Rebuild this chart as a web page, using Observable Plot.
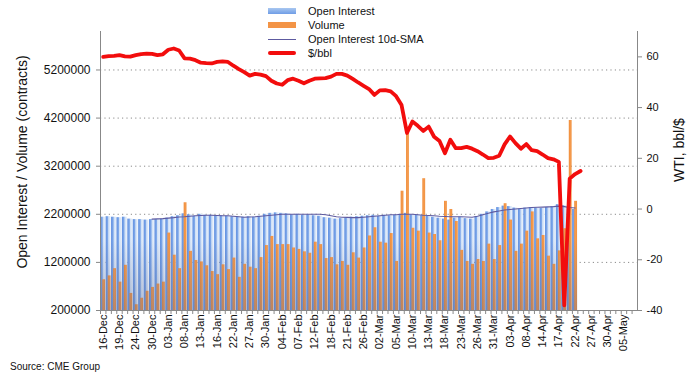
<!DOCTYPE html>
<html><head><meta charset="utf-8">
<script src="https://cdn.jsdelivr.net/npm/d3@7"></script>
<script src="https://cdn.jsdelivr.net/npm/@observablehq/plot@0.6"></script>
<style>
body{margin:0;background:#fff;font-family:"Liberation Sans",Arial,sans-serif;}
#wrap{position:relative;width:694px;height:383px;overflow:hidden;background:#fff;}
#wrap svg{position:absolute;left:0;top:0;}
.legend{position:absolute;left:268px;top:4px;font-size:11px;color:#111;line-height:14px;}
.li{height:14px;display:flex;align-items:center;}
.sw{width:28px;margin-right:12px;flex:none;}
.ytitle{position:absolute;white-space:nowrap;font-size:14px;color:#111;transform:translate(-50%,-50%) rotate(-90deg);}
.src{position:absolute;left:10px;top:361px;font-size:10px;color:#111;}
</style></head>
<body>
<div id="wrap">
  <div class="ytitle" style="left:22px;top:162px">Open Interest / Volume (contracts)</div>
  <div class="ytitle" style="left:679px;top:150px">WTI, bbl/$</div>
  <div class="src">Source: CME Group</div>
</div>
<script>
// ---- data ----
const days = ["16-Dec","17-Dec","18-Dec","19-Dec","20-Dec","23-Dec","24-Dec","26-Dec","27-Dec","30-Dec","31-Dec",
"02-Jan","03-Jan","06-Jan","07-Jan","08-Jan","09-Jan","10-Jan","13-Jan","14-Jan","15-Jan","16-Jan","17-Jan","21-Jan","22-Jan","23-Jan","24-Jan","27-Jan","28-Jan","29-Jan","30-Jan","31-Jan",
"03-Feb","04-Feb","05-Feb","06-Feb","07-Feb","10-Feb","11-Feb","12-Feb","13-Feb","14-Feb","18-Feb","19-Feb","20-Feb","21-Feb","24-Feb","25-Feb","26-Feb","27-Feb","28-Feb",
"02-Mar","03-Mar","04-Mar","05-Mar","06-Mar","09-Mar","10-Mar","11-Mar","12-Mar","13-Mar","16-Mar","17-Mar","18-Mar","19-Mar","20-Mar","23-Mar","24-Mar","25-Mar","26-Mar","27-Mar","30-Mar","31-Mar",
"01-Apr","02-Apr","03-Apr","06-Apr","07-Apr","08-Apr","09-Apr","13-Apr","14-Apr","15-Apr","16-Apr","17-Apr","20-Apr","21-Apr","22-Apr","23-Apr","24-Apr","27-Apr","28-Apr","29-Apr","30-Apr",
"01-May","04-May","05-May","06-May","07-May"];

const tickLabels = ["16-Dec","19-Dec","24-Dec","30-Dec","03-Jan","08-Jan","13-Jan","16-Jan","22-Jan","27-Jan","30-Jan",
"04-Feb","07-Feb","12-Feb","18-Feb","21-Feb","26-Feb","02-Mar","05-Mar","10-Mar","13-Mar","18-Mar","23-Mar","26-Mar",
"31-Mar","03-Apr","08-Apr","14-Apr","17-Apr","22-Apr","27-Apr","30-Apr","05-May"];

const volume = [840000,920000,1070000,790000,1140000,555000,320000,455000,600000,680000,
750000,790000,1810000,1350000,1070000,2440000,1430000,1240000,1210000,1130000,
1010000,945000,1150000,1050000,1290000,890000,1160000,1100000,1070000,1300000,
1550000,1740000,1570000,1570000,1570000,1500000,1470000,1420000,1390000,1620000,
1570000,1280000,1300000,1150000,1220000,1140000,1400000,1290000,1500000,1750000,
1920000,1620000,1600000,1800000,1220000,2680000,3890000,1910000,1850000,2940000,
1810000,1780000,1650000,2470000,2300000,2050000,1450000,1220000,1160000,1260000,
1220000,1580000,1260000,1550000,2420000,2080000,1430000,1580000,1850000,2250000,
1690000,1760000,1330000,1160000,1440000,1900000,4150000,2470000];

const openInterest = [2140000,2150000,2140000,2130000,2140000,2100000,2090000,2090000,2080000,2090000,
2090000,2100000,2120000,2150000,2170000,2210000,2190000,2160000,2200000,2180000,
2180000,2170000,2170000,2160000,2150000,2150000,2140000,2150000,2140000,2160000,
2200000,2220000,2230000,2220000,2210000,2190000,2200000,2180000,2190000,2170000,
2160000,2130000,2120000,2100000,2110000,2120000,2140000,2150000,2160000,2170000,
2180000,2160000,2180000,2170000,2180000,2200000,2220000,2190000,2180000,2170000,
2160000,2140000,2120000,2100000,2080000,2120000,2140000,2110000,2100000,2150000,
2200000,2250000,2300000,2340000,2370000,2360000,2330000,2310000,2330000,2340000,
2330000,2320000,2340000,2360000,2400000,2380000,2350000,2300000];

// 10-day SMA of open interest, starts at 30-Dec (index 9)
const smaStart = 9;
const oiSma = [2100000,2105000,2110000,2120000,2130000,2145000,2150000,2160000,2170000,2175000,
2180000,2180000,2175000,2170000,2170000,2160000,2150000,2140000,2145000,2150000,
2160000,2170000,2180000,2190000,2200000,2200000,2200000,2200000,2200000,2200000,
2200000,2200000,2190000,2170000,2150000,2140000,2135000,2130000,2130000,2140000,
2150000,2160000,2170000,2180000,2190000,2190000,2200000,2200000,2200000,2190000,
2180000,2175000,2170000,2160000,2155000,2150000,2150000,2150000,2145000,2140000,
2160000,2190000,2220000,2250000,2270000,2290000,2300000,2310000,2320000,2330000,
2340000,2345000,2350000,2355000,2360000,2370000,2360000,2340000,2330000];

const wti = [60.0,60.3,60.4,60.7,60.2,60.1,60.7,61.1,61.3,61.2,
60.7,61.0,62.8,63.3,62.5,59.4,59.3,58.7,57.7,57.5,
57.4,58.0,58.2,58.0,56.5,55.2,54.0,52.6,53.3,53.0,
52.4,50.6,49.5,49.0,50.8,51.4,50.6,49.6,50.6,51.4,
51.5,51.6,52.2,53.3,53.3,52.6,51.3,49.9,48.6,47.3,
45.0,46.8,46.9,46.4,44.5,41.0,30.0,34.5,32.8,30.8,
32.5,28.5,26.8,22.0,27.3,24.0,24.0,24.5,23.8,22.8,
21.5,20.1,20.2,21.0,25.5,28.6,26.0,23.8,25.6,23.2,
22.8,21.5,20.1,19.6,18.6,-38.0,12.0,13.8,15.0];

const leftTicks = [200000,1200000,2200000,3200000,4200000,5200000];
const rightTicks = [-40,-20,0,20,40,60];
const leftDomain = [200000,6000000];
const rightDomain = [-40,70];

// ---- build ----
const toC = d3.scaleLinear(rightDomain, leftDomain);
const barRows = volume.map((v,i)=>({day:days[i], vol:v, oi:openInterest[i]}));
const smaRows = oiSma.map((v,i)=>({day:days[i+smaStart], v}));
const wtiRows = wti.map((p,i)=>({day:days[i], p}));
const base = leftDomain[0];

const chart = Plot.plot({
  width: 694, height: 383,
  marginLeft: 100, marginRight: 57, marginTop: 31, marginBottom: 73,
  style: {fontFamily: '"Liberation Sans", Arial, sans-serif', color: "#111", background: "transparent"},
  x: {type: "band", domain: days, padding: 0, axis: null},
  y: {domain: leftDomain, axis: null},
  marks: [
    Plot.gridY(leftTicks.slice(1), {stroke: "#8a8a8a", strokeOpacity: 1, strokeDasharray: "1.2,3.2"}),
    Plot.barY(barRows, {x: "day", y1: () => base, y2: "oi", fill: "url(#oiGrad)", insetLeft: 0.2, insetRight: 0.2}),
    Plot.barY(barRows, {x: "day", y1: () => base, y2: "vol", fill: "url(#volGrad)", insetLeft: 2.3, insetRight: 0.3}),
    Plot.barY(barRows, {x: "day", y1: () => base, y2: "oi", fill: "url(#shade)", insetLeft: 0.2, insetRight: 0.2}),
    Plot.lineY(smaRows, {x: "day", y: "v", stroke: "#5d5aa0", strokeWidth: 1.1}),
    Plot.lineY(wtiRows, {x: "day", y: d => toC(d.p), stroke: "#f20d0d", strokeWidth: 3.8, strokeLinejoin: "round"}),
    Plot.axisY(leftTicks, {anchor: "left", tickSize: 4, tickPadding: 6, fontSize: 12, tickFormat: d => String(d), label: null, stroke: "#888"}),
    Plot.axisY(rightTicks.map(toC), {anchor: "right", tickSize: 4, tickPadding: 5, fontSize: 11, tickFormat: c => String(Math.round(toC.invert(c))), label: null, stroke: "#888"}),
    Plot.axisX(days, {anchor: "bottom", tickSize: 4, tickFormat: () => "", label: null, stroke: "#888", dx: -2.7}),
    Plot.axisX(tickLabels, {anchor: "bottom", tickSize: 0, tickPadding: 4, tickRotate: -90, fontSize: 11, label: null}),
    Plot.frame({anchor: "left", stroke: "#888"}),
    Plot.frame({anchor: "right", stroke: "#888"}),
    Plot.frame({anchor: "bottom", stroke: "#888"})
  ]
});

// gradients for bars
const defs = d3.select(chart).insert("defs", ":first-child");
const g1 = defs.append("linearGradient").attr("id", "oiGrad").attr("x1", 0).attr("x2", 1).attr("y1", 0).attr("y2", 0);
[[0,"#5f8fe0"],[0.42,"#80a9ea"],[0.6,"#cfe0f6"],[1,"#e8f0fa"]].forEach(([o,c]) => g1.append("stop").attr("offset", o).attr("stop-color", c));
const g2 = defs.append("linearGradient").attr("id", "volGrad").attr("x1", 0).attr("x2", 1).attr("y1", 0).attr("y2", 0);
[[0,"#ef8a35"],[0.5,"#f59b4e"],[1,"#f0913f"]].forEach(([o,c]) => g2.append("stop").attr("offset", o).attr("stop-color", c));
const g3 = defs.append("linearGradient").attr("id", "shade").attr("gradientUnits", "userSpaceOnUse")
  .attr("x1", 0).attr("x2", 0).attr("y1", 240).attr("y2", 310);
[[0,"rgba(90,100,140,0)"],[1,"rgba(90,100,140,0.35)"]].forEach(([o,c]) => g3.append("stop").attr("offset", o).attr("stop-color", c));

document.getElementById("wrap").prepend(chart);

// legend
const legend = d3.select("#wrap").append("div").attr("class", "legend");
const items = [
  {label: "Open Interest", sw: "height:6px;background:linear-gradient(#a9c7f0,#6f9de6)"},
  {label: "Volume", sw: "height:6px;background:#f39446"},
  {label: "Open Interest 10d-SMA", sw: "height:1px;background:#5d5aa0"},
  {label: "$/bbl", sw: "height:4px;background:#f20d0d;border-radius:2px"}
];
items.forEach(it => {
  const r = legend.append("div").attr("class", "li");
  r.append("div").attr("class", "sw").attr("style", it.sw);
  r.append("span").text(it.label);
});
</script>
</body></html>
